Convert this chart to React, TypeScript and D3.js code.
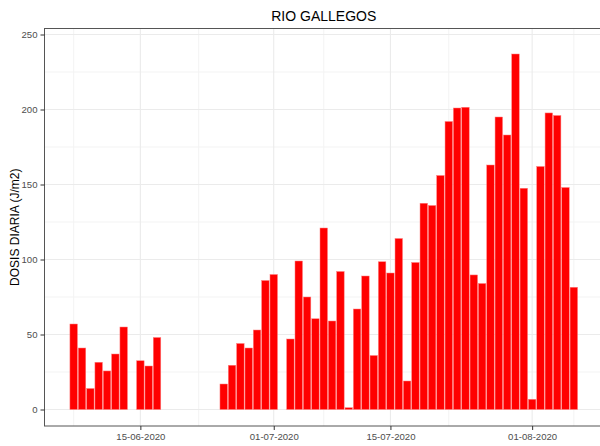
import { useEffect, useRef } from 'react';
import * as d3 from 'd3';

// fechas (dd-mm-2020) con dato; los días faltantes no tienen barra
const fechas = [
  '07-06', '08-06', '09-06', '10-06', '11-06', '12-06', '13-06',
  '15-06', '16-06', '17-06',
  '25-06', '26-06', '27-06', '28-06', '29-06', '30-06', '01-07',
  '03-07', '04-07', '05-07', '06-07', '07-07', '08-07', '09-07', '10-07', '11-07', '12-07',
  '13-07', '14-07', '15-07', '16-07', '17-07', '18-07', '19-07', '20-07', '21-07', '22-07',
  '23-07', '24-07', '25-07', '26-07', '27-07', '28-07', '29-07', '30-07', '31-07', '01-08',
  '02-08', '03-08', '04-08', '05-08', '06-08',
];

const dosis = [
  57, 41, 14, 31.5, 25.7, 37, 55,
  32.5, 29, 48,
  17, 29.5, 44, 41, 53, 86, 90,
  47, 99, 75, 60.5, 121, 59, 92, 1.2, 67, 89,
  36, 98.5, 91, 114, 19, 98, 137.5, 136, 156, 192,
  201, 201.5, 89.7, 84, 163, 195, 183, 237, 147.5, 6.8,
  162, 197.7, 196, 148, 81.5,
];

const xMajor = ['15-06', '01-07', '15-07', '01-08'];
const xMinor = ['07-06', '22-06', '07-07', '22-07', '06-08'];
const yMajor = [0, 50, 100, 150, 200, 250];
const yMinor = [25, 75, 125, 175, 225];

const parse = (s: string) => {
  const [d, m] = s.split('-').map(Number);
  return new Date(Date.UTC(2020, m - 1, d));
};

const DAY = 24 * 3600 * 1000;

export default function App() {
  const svgRef = useRef<SVGSVGElement>(null);

  useEffect(() => {
    if (!svgRef.current) return;
    const svg = d3.select(svgRef.current);
    svg.selectAll('*').remove();

    const left = 44.5;
    const right = 603;
    const top = 28.5;
    const bottom = 426;
    const font = 'Liberation Sans, Arial, sans-serif';

    const first = parse(fechas[0]);
    const last = parse(fechas[fechas.length - 1]);
    const x = d3
      .scaleUtc()
      .domain([new Date(+first - 3.5 * DAY), new Date(+last + 3.5 * DAY)])
      .range([left, right]);
    const y = d3.scaleLinear().domain([-11, 254]).range([bottom, top]);
    const dayPx = x(new Date(+first + DAY)) - x(first);
    const barW = dayPx * 0.9;

    const grid = svg.append('g');
    grid
      .selectAll('line.ymin')
      .data(yMinor)
      .join('line')
      .attr('x1', left)
      .attr('x2', right)
      .attr('y1', (d) => y(d))
      .attr('y2', (d) => y(d))
      .attr('stroke', '#f3f3f3')
      .attr('stroke-width', 1);
    grid
      .selectAll('line.xmin')
      .data(xMinor)
      .join('line')
      .attr('x1', (d) => x(parse(d)))
      .attr('x2', (d) => x(parse(d)))
      .attr('y1', top)
      .attr('y2', bottom)
      .attr('stroke', '#f3f3f3')
      .attr('stroke-width', 1);
    grid
      .selectAll('line.ymaj')
      .data(yMajor)
      .join('line')
      .attr('x1', left)
      .attr('x2', right)
      .attr('y1', (d) => y(d))
      .attr('y2', (d) => y(d))
      .attr('stroke', '#ebebeb')
      .attr('stroke-width', 1.1);
    grid
      .selectAll('line.xmaj')
      .data(xMajor)
      .join('line')
      .attr('x1', (d) => x(parse(d)))
      .attr('x2', (d) => x(parse(d)))
      .attr('y1', top)
      .attr('y2', bottom)
      .attr('stroke', '#ebebeb')
      .attr('stroke-width', 1.1);

    svg
      .append('g')
      .selectAll('rect')
      .data(fechas.map((f, i) => ({ f, v: dosis[i] })))
      .join('rect')
      .attr('x', (d) => x(parse(d.f)) - barW / 2)
      .attr('width', barW)
      .attr('y', (d) => y(d.v))
      .attr('height', (d) => y(0) - y(d.v))
      .attr('fill', '#ff0000')
      .attr('stroke', '#ff8080')
      .attr('stroke-width', 0.5);

    // borde del panel
    svg
      .append('rect')
      .attr('x', left)
      .attr('y', top)
      .attr('width', right - left)
      .attr('height', bottom - top)
      .attr('fill', 'none')
      .attr('stroke', '#555555')
      .attr('stroke-width', 1);

    const xAxis = d3
      .axisBottom(x)
      .tickValues(xMajor.map(parse))
      .tickFormat((d) => d3.utcFormat('%d-%m-%Y')(d as Date))
      .tickSize(4)
      .tickPadding(3);
    const gx = svg.append('g').attr('transform', `translate(0,${bottom})`).call(xAxis);
    gx.select('.domain').remove();
    gx.selectAll('.tick line').attr('stroke', '#333333');
    gx.selectAll('text')
      .attr('fill', '#4d4d4d')
      .attr('font-size', 9.6)
      .attr('font-family', font);

    const yAxis = d3.axisLeft(y).tickValues(yMajor).tickSize(4).tickPadding(3);
    const gy = svg.append('g').attr('transform', `translate(${left},0)`).call(yAxis);
    gy.select('.domain').remove();
    gy.selectAll('.tick line').attr('stroke', '#333333');
    gy.selectAll('text')
      .attr('fill', '#4d4d4d')
      .attr('font-size', 9.6)
      .attr('font-family', font);

    svg
      .append('text')
      .attr('x', (left + right) / 2)
      .attr('y', 20.5)
      .attr('text-anchor', 'middle')
      .attr('fill', '#000000')
      .attr('font-size', 14)
      .attr('font-family', font)
      .text('RIO GALLEGOS');

    svg
      .append('text')
      .attr('transform', `translate(18.5,${(top + bottom) / 2}) rotate(-90)`)
      .attr('text-anchor', 'middle')
      .attr('fill', '#000000')
      .attr('font-size', 12)
      .attr('font-family', font)
      .text('DOSIS DIARIA (J/m2)');
  }, []);

  return (
    <svg
      ref={svgRef}
      width={600}
      height={446}
      style={{ position: 'absolute', left: 0, top: 0, background: '#ffffff' }}
    />
  );
}
